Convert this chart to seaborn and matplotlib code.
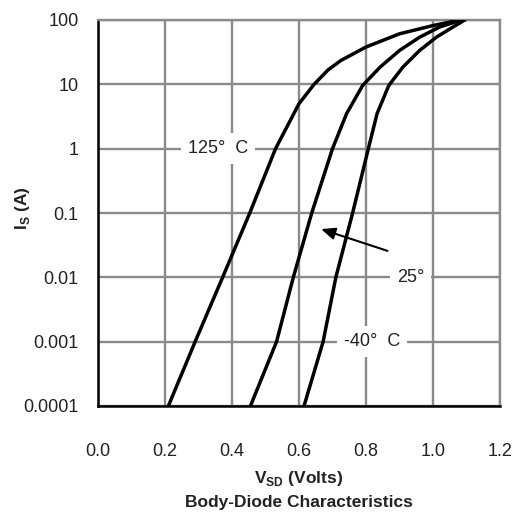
import matplotlib
matplotlib.use("Agg")
import matplotlib.pyplot as plt
import seaborn as sns
import pandas as pd

# Data
i_125 = [1e-4, 1e-3, 1e-2, 1e-1, 1, 5, 10, 16.8, 23.5, 38, 61, 82, 100]
v_125 = [0.21, 0.29, 0.372, 0.453, 0.53, 0.60, 0.645, 0.687, 0.725, 0.80, 0.90, 1.00, 1.08]
i_25 = [1e-4, 1e-3, 1e-2, 1e-1, 1, 3.5, 9.6, 18.5, 33.6, 54, 78, 100]
v_25 = [0.455, 0.533, 0.583, 0.638, 0.70, 0.742, 0.79, 0.842, 0.90, 0.96, 1.02, 1.085]
i_m40 = [1e-4, 1e-3, 1e-2, 1e-1, 1, 3.5, 9.6, 18.5, 33.6, 54, 78, 100]
v_m40 = [0.615, 0.672, 0.71, 0.76, 0.807, 0.833, 0.868, 0.91, 0.96, 1.01, 1.06, 1.095]
x_ticks = [0.0, 0.2, 0.4, 0.6, 0.8, 1.0, 1.2]
x_tick_labels = ["0.0", "0.2", "0.4", "0.6", "0.8", "1.0", "1.2"]
y_ticks = [1e-4, 1e-3, 1e-2, 1e-1, 1, 10, 100]
y_tick_labels = ["0.0001", "0.001", "0.01", "0.1", "1", "10", "100"]

sns.set_theme(style="white")
plt.rcParams["font.family"] = ["Liberation Sans", "DejaVu Sans"]
plt.rcParams["mathtext.fontset"] = "custom"
plt.rcParams["mathtext.rm"] = "Liberation Sans"
plt.rcParams["mathtext.bf"] = "Liberation Sans:bold"

fig = plt.figure(figsize=(5.19, 5.21), dpi=100)
ax = fig.add_axes([98/519, 1-406/521, 402/519, 386/521])

for vs, cur in [(v_125, i_125), (v_25, i_25), (v_m40, i_m40)]:
    df = pd.DataFrame({"V": vs, "I": cur})
    sns.lineplot(data=df, x="V", y="I", ax=ax, color="black", linewidth=2.5,
                 sort=False, estimator=None, zorder=3)

ax.set_yscale("log")
ax.set_xlim(0, 1.2)
ax.set_ylim(1e-4, 100)
ax.set_xticks(x_ticks)
ax.set_xticklabels(x_tick_labels, fontsize=13, color="#222222")
ax.set_yticks(y_ticks)
ax.set_yticklabels(y_tick_labels, fontsize=13, color="#222222")
ax.minorticks_off()
ax.tick_params(axis="both", length=0)
ax.tick_params(axis="x", pad=27)
ax.tick_params(axis="y", pad=14)
ax.grid(True, color="#8a8a8a", linewidth=1.7, zorder=0)
ax.set_axisbelow(True)
for s in ["top", "right"]:
    ax.spines[s].set_color("#8a8a8a")
    ax.spines[s].set_linewidth(1.7)
for s in ["left", "bottom"]:
    ax.spines[s].set_color("black")
    ax.spines[s].set_linewidth(1.8)
ax.set_xlabel("")
ax.set_ylabel("")

box = dict(facecolor="white", edgecolor="none", pad=5)
ax.text(0.358, 1, "125°  C", ha="center", va="center", fontsize=13,
        color="#222222", bbox=box, zorder=4)
ax.text(0.934, 0.01, "25°", ha="center", va="center", fontsize=13,
        color="#222222", bbox=box, zorder=4)
ax.text(0.818, 0.001, "-40°  C", ha="center", va="center", fontsize=13,
        color="#222222", bbox=box, zorder=4)
ax.annotate("", xy=(0.658, 0.058), xytext=(0.872, 0.025),
            arrowprops=dict(arrowstyle="-|>,head_length=0.7,head_width=0.3",
                            color="black", lw=1.5), zorder=5)

fig.text(299/519, 1-478/521, r"V$_{\mathbf{SD}}$ (Volts)", ha="center", va="center",
         fontsize=12.5, fontweight="bold", color="#222222")
fig.text(299/519, 1-502/521, "Body-Diode Characteristics", ha="center", va="center",
         fontsize=12.5, fontweight="bold", color="#222222")
fig.text(23/519, 1-208/521, r"I$_{\mathbf{S}}$ (A)", ha="center", va="center",
         rotation=90, fontsize=12.5, fontweight="bold", color="#222222")

fig.savefig("out.png", dpi=100)
